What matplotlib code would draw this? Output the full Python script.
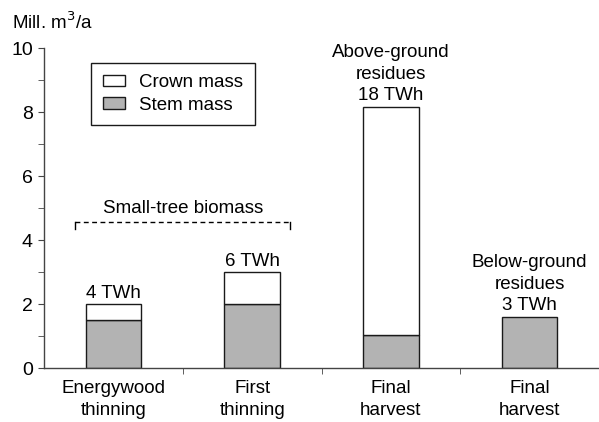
import matplotlib.pyplot as plt
import numpy as np

plt.rcParams['font.family'] = ['Liberation Sans', 'DejaVu Sans']
plt.rcParams['font.size'] = 13.5

# data
categories = ['Energywood\nthinning', 'First\nthinning', 'Final\nharvest', 'Final\nharvest']
stem_mass = [1.5, 2.0, 1.05, 1.6]
crown_mass = [0.5, 1.0, 7.12, 0.0]
bar_labels = ['4 TWh', '6 TWh', 'Above-ground\nresidues\n18 TWh', 'Below-ground\nresidues\n3 TWh']
small_tree_level = 4.58

x = np.arange(len(categories))
stem = np.array(stem_mass)
crown = np.array(crown_mass)

fig = plt.figure(figsize=(5.99, 4.22), dpi=100)
ax = fig.add_axes([0.0735, 0.127, 0.9265, 0.7585])

ax.bar(x, stem, width=0.4, color='#b3b3b3', edgecolor='#1a1a1a',
       linewidth=1.0, label='Stem mass', zorder=2)
ax.bar(x[:3], crown[:3], bottom=stem[:3], width=0.4, color='white',
       edgecolor='#1a1a1a', linewidth=1.0, label='Crown mass', zorder=2)

for xi, total, lab in zip(x, stem + crown, bar_labels):
    ax.annotate(lab, (xi, total), xytext=(0, 2), textcoords='offset points',
                ha='center', va='bottom', linespacing=1.35)

# small-tree bracket
ax.plot([-0.275, 1.275], [small_tree_level, small_tree_level],
        color='black', linestyle=(0, (3.5, 2.5)), linewidth=1.0)
ax.plot([-0.275, -0.275], [small_tree_level, small_tree_level - 0.22],
        color='black', linewidth=1.0)
ax.plot([1.275, 1.275], [small_tree_level, small_tree_level - 0.22],
        color='black', linewidth=1.0)
ax.text(0.5, small_tree_level + 0.16, 'Small-tree biomass', ha='center', va='bottom')

ax.set_xlim(-0.5, 3.5)
ax.set_ylim(0, 10)
ax.set_yticks([0, 2, 4, 6, 8, 10])
ax.set_yticks(np.arange(0, 11, 1), minor=True)
ax.tick_params(axis='y', which='both', direction='out', length=4,
               color='#444444', pad=4, labelsize=14)
ax.set_xticks(x)
ax.set_xticklabels(categories, linespacing=1.4)
ax.set_xticks([0.5, 1.5, 2.5], minor=True)
ax.tick_params(axis='x', which='major', length=0, pad=8, labelsize=13.5)
ax.tick_params(axis='x', which='minor', length=4, color='#444444')

for s in ['top', 'right']:
    ax.spines[s].set_visible(False)
for s in ['left', 'bottom']:
    ax.spines[s].set_color('#444444')
    ax.spines[s].set_linewidth(1.0)

handles, labels = ax.get_legend_handles_labels()
leg = ax.legend(handles[::-1], labels[::-1], loc='upper left',
                bbox_to_anchor=(0.0855, 0.955), borderaxespad=0, fancybox=False,
                edgecolor='#1a1a1a', framealpha=1, fontsize=13.5,
                handlelength=1.2, handleheight=0.55, borderpad=0.6,
                labelspacing=0.3, handletextpad=0.75)
leg.get_frame().set_linewidth(1.0)

fig.text(0.02, 0.948, 'Mill. m$^3$/a', ha='left', va='center', fontsize=13.5)

fig.savefig('out.png', dpi=100)
